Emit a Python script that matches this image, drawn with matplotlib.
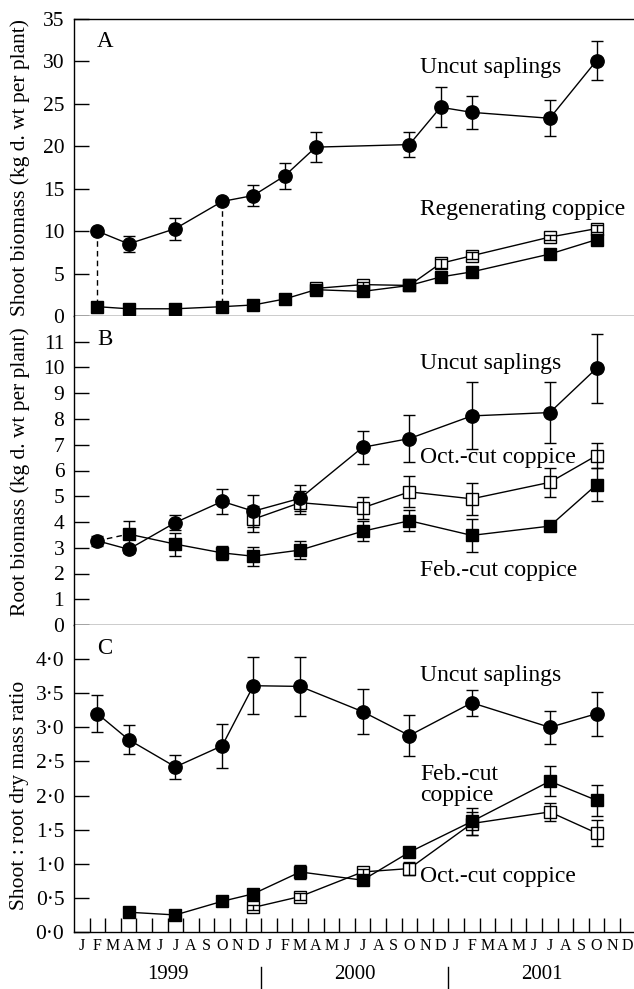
import matplotlib
matplotlib.use('Agg')
import matplotlib.pyplot as plt
import matplotlib.transforms as mtransforms
import numpy as np

plt.rcParams['font.family'] = ['Liberation Serif', 'DejaVu Serif']
plt.rcParams['axes.linewidth'] = 1.0

# sampling dates (year-month)
uncut_dates_a = ['1999-02', '1999-04', '1999-07', '1999-10', '1999-12', '2000-02',
                 '2000-04', '2000-10', '2000-12', '2001-02', '2001-07', '2001-10']
feb_dates_a = ['1999-02', '1999-04', '1999-07', '1999-10', '1999-12', '2000-02', '2000-04',
               '2000-07', '2000-10', '2000-12', '2001-02', '2001-07', '2001-10']
oct_dates_a = ['2000-04', '2000-07', '2000-10', '2000-12', '2001-02', '2001-07', '2001-10']

uncut_dates = ['1999-02', '1999-04', '1999-07', '1999-10', '1999-12', '2000-03',
               '2000-07', '2000-10', '2001-02', '2001-07', '2001-10']
feb_dates = ['1999-04', '1999-07', '1999-10', '1999-12', '2000-03',
             '2000-07', '2000-10', '2001-02', '2001-07', '2001-10']
oct_dates = ['1999-12', '2000-03', '2000-07', '2000-10', '2001-02', '2001-07', '2001-10']

# A: shoot biomass (kg d. wt per plant)
uncut_shoot = [10.0, 8.5, 10.3, 13.5, 14.2, 16.5, 19.9, 20.2, 24.6, 24.0, 23.3, 30.1]
uncut_shoot_err = [0.3, 0.9, 1.3, 0.3, 1.25, 1.55, 1.8, 1.5, 2.35, 1.95, 2.1, 2.3]
feb_shoot = [1.1, 0.85, 0.85, 1.1, 1.3, 2.0, 3.1, 2.9, 3.6, 4.6, 5.2, 7.3, 9.0]
feb_shoot_err = [0.1, 0.1, 0.1, 0.1, 0.1, 0.15, 0.2, 0.2, 0.2, 0.3, 0.3, 0.3, 0.4]
oct_shoot = [3.25, 3.7, 3.6, 6.2, 7.1, 9.3, 10.3]
oct_shoot_err = [0.2, 0.3, 0.2, 0.5, 0.4, 0.3, 0.4]

# B: root biomass (kg d. wt per plant)
uncut_root = [3.27, 2.94, 3.98, 4.8, 4.42, 4.92, 6.9, 7.24, 8.12, 8.25, 9.97]
uncut_root_err = [0.2, 0.15, 0.3, 0.48, 0.63, 0.5, 0.64, 0.9, 1.3, 1.2, 1.33]
feb_root = [3.53, 3.14, 2.8, 2.67, 2.91, 3.64, 4.05, 3.48, 3.84, 5.45]
feb_root_err = [0.5, 0.45, 0.28, 0.37, 0.34, 0.38, 0.4, 0.65, 0.1, 0.65]
oct_root = [4.11, 4.75, 4.55, 5.17, 4.9, 5.54, 6.58]
oct_root_err = [0.5, 0.45, 0.42, 0.6, 0.63, 0.55, 0.5]

# C: shoot : root dry mass ratio
uncut_ratio = [3.2, 2.82, 2.42, 2.73, 3.61, 3.6, 3.23, 2.88, 3.36, 3.0, 3.2]
uncut_ratio_err = [0.27, 0.21, 0.17, 0.32, 0.42, 0.43, 0.33, 0.3, 0.19, 0.24, 0.32]
feb_ratio = [0.29, 0.25, 0.45, 0.56, 0.88, 0.76, 1.17, 1.62, 2.21, 1.93]
feb_ratio_err = [0.02, 0.02, 0.03, 0.04, 0.1, 0.04, 0.05, 0.2, 0.22, 0.23]
oct_ratio = [0.36, 0.52, 0.88, 0.93, 1.59, 1.76, 1.45]
oct_ratio_err = [0.04, 0.05, 0.04, 0.1, 0.17, 0.13, 0.19]

month_letters = list('JFMAMJJASOND') * 3
years = ['1999', '2000', '2001']


def to_x(dates):
    # months since Jan 1999, placed in the middle of the month
    out = []
    for d in dates:
        y, m = d.split('-')
        out.append((int(y) - 1999) * 12 + int(m) - 0.5)
    return np.array(out)


def series(ax, dates, vals, errs, kind):
    x = to_x(dates)
    if kind == 'circle':
        ax.errorbar(x, vals, yerr=errs, fmt='-o', color='black', ms=9.6,
                    lw=1.0, elinewidth=1.0, capsize=4.5, capthick=1.0, zorder=4)
    elif kind == 'filled':
        ax.errorbar(x, vals, yerr=errs, fmt='-s', color='black', ms=9,
                    lw=1.0, elinewidth=1.0, capsize=4.5, capthick=1.0, zorder=5)
    else:
        ax.plot(x, vals, '-s', color='black', mfc='white', mec='black', ms=9,
                mew=1.0, lw=1.0, zorder=3)
        ax.errorbar(x, vals, yerr=errs, fmt='none', ecolor='black',
                    elinewidth=1.0, capsize=4.5, capthick=1.0, zorder=3.5)


fig = plt.figure(figsize=(6.34, 9.89), dpi=100)
W, H = 634.0, 989.0
left = 74 / W
axA = fig.add_axes([left, 1 - 316 / H, 1 - left, 297 / H])
axB = fig.add_axes([left, 1 - 625 / H, 1 - left, 309 / H])
axC = fig.add_axes([left, 1 - 932 / H, 1 - left, 307 / H])

for ax in (axA, axB, axC):
    ax.set_xlim(0, 35.9)
    ax.spines['right'].set_visible(False)
    ax.tick_params(axis='y', direction='in', length=11, width=1.0, labelsize=15.5, pad=7)
    ax.set_xticks([])

# panel A
series(axA, oct_dates_a, oct_shoot, oct_shoot_err, 'open')
series(axA, feb_dates_a, feb_shoot, feb_shoot_err, 'filled')
series(axA, uncut_dates_a, uncut_shoot, uncut_shoot_err, 'circle')
for d in ['1999-02', '1999-10']:
    xd = to_x([d])[0]
    axA.plot([xd, xd], [uncut_shoot[uncut_dates_a.index(d)], feb_shoot[feb_dates_a.index(d)]],
             ls=(0, (4, 3)), color='black', lw=1.0, zorder=2)
axA.set_ylim(0, 35)
axA.set_yticks(range(0, 36, 5))

# panel B
series(axB, oct_dates, oct_root, oct_root_err, 'open')
series(axB, feb_dates, feb_root, feb_root_err, 'filled')
series(axB, uncut_dates, uncut_root, uncut_root_err, 'circle')
axB.plot(to_x([uncut_dates[0], feb_dates[0]]), [uncut_root[0], feb_root[0]],
         ls=(0, (4, 3)), color='black', lw=1.0, zorder=2)
axB.set_ylim(0, 12)
axB.set_yticks(range(0, 12))
axB.spines['top'].set_visible(False)

# panel C
series(axC, oct_dates, oct_ratio, oct_ratio_err, 'open')
series(axC, feb_dates, feb_ratio, feb_ratio_err, 'filled')
series(axC, uncut_dates, uncut_ratio, uncut_ratio_err, 'circle')
axC.set_ylim(0, 4.5)
yt = np.arange(0, 4.01, 0.5)
axC.set_yticks(yt)
axC.set_yticklabels([f'{v:.1f}'.replace('.', '\u00b7') for v in yt])
axC.spines['top'].set_visible(False)
axC.set_xticks(np.arange(1, 36))
axC.tick_params(axis='x', direction='in', length=10, width=1.0, labelbottom=False)

# month letters, years and separators under panel C
trans = mtransforms.blended_transform_factory(axC.transData, axC.transAxes)
for i, m in enumerate(month_letters):
    axC.text(i + 0.5, -0.044, m, transform=trans, ha='center', va='center', fontsize=11.5)
for i, yr in enumerate(years):
    axC.text(12 * i + 6, -0.138, yr, transform=trans, ha='center', va='center', fontsize=15)
for xs in [12, 24]:
    axC.plot([xs, xs], [-0.114, -0.19], transform=trans, color='black', lw=1.0, clip_on=False)

# panel letters
for ax, lab in [(axA, 'A'), (axB, 'B'), (axC, 'C')]:
    ax.text(0.055, 0.925, lab, transform=ax.transAxes, ha='center', va='center', fontsize=16.5)

# curve labels
fs = 17
axA.text(22.2, 29.3, 'Uncut saplings', fontsize=fs, va='center')
axA.text(22.2, 12.5, 'Regenerating coppice', fontsize=fs, va='center')
axB.text(22.2, 10.15, 'Uncut saplings', fontsize=fs, va='center')
axB.text(22.2, 6.5, 'Oct.-cut coppice', fontsize=fs, va='center')
axB.text(22.2, 2.13, 'Feb.-cut coppice', fontsize=fs, va='center')
axC.text(22.2, 3.76, 'Uncut saplings', fontsize=fs, va='center')
axC.text(22.2, 2.15, 'Feb.-cut\ncoppice', fontsize=fs, va='center', linespacing=1.0)
axC.text(22.2, 0.81, 'Oct.-cut coppice', fontsize=fs, va='center')

# y axis titles
fig.text(20 / W, 1 - 167 / H, 'Shoot biomass (kg d. wt per plant)', rotation=90,
         ha='center', va='center', fontsize=15.5)
fig.text(20 / W, 1 - 472 / H, 'Root biomass (kg d. wt per plant)', rotation=90,
         ha='center', va='center', fontsize=15.5)
fig.text(20 / W, 1 - 795 / H, 'Shoot : root dry mass ratio', rotation=90,
         ha='center', va='center', fontsize=15.5)

fig.savefig('out.png', dpi=100)
